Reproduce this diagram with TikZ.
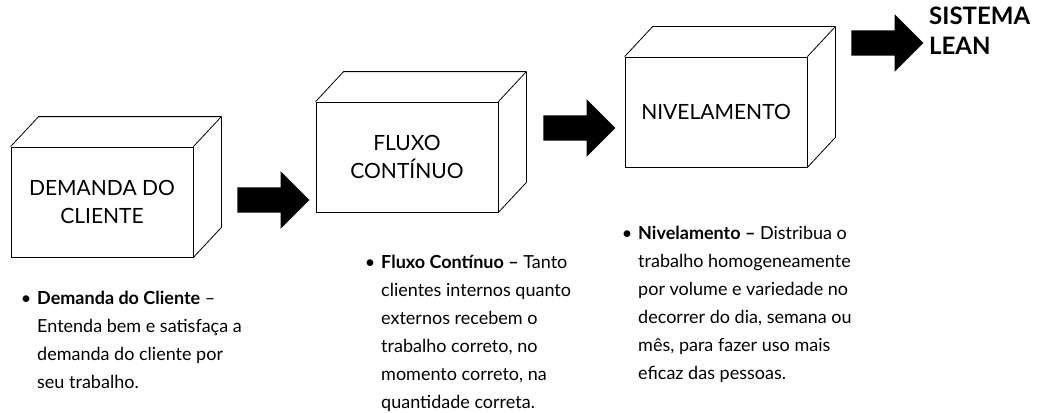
\documentclass[tikz,border=0pt]{standalone}
\usepackage{fontspec}
\setmainfont{Lato}
\usetikzlibrary{shapes.arrows,calc}

\begin{document}
\begin{tikzpicture}[x=1pt,y=-1pt,
    caixa/.style={draw,line width=0.8pt,minimum width=182pt,minimum height=110pt,
      inner sep=0pt,align=center,font=\fontsize{21}{28}\selectfont},
    seta/.style={single arrow,fill=black,inner xsep=0pt,inner ysep=12.5pt,
      minimum height=72pt,single arrow head extend=16pt},
    nota/.style={anchor=base west,align=left,inner sep=0pt,
      font=\fontsize{18}{28}\selectfont}
  ]
  \useasboundingbox (0,0) rectangle (1051,412);
  % caixas (face da frente)
  \node[caixa] (demanda) at (102,202) {DEMANDA DO\\CLIENTE};
  \node[caixa] (fluxo) at (407,157) {FLUXO\\CONTÍNUO};
  \node[caixa] (nivel) at (716,112) {NIVELAMENTO};
  % topo e lado de cada caixa
  \foreach \b in {demanda,fluxo,nivel}
    \draw[line width=0.8pt,line join=round] (\b.north west) -- ++(28,-30)
      -- ($(\b.north east)+(28,-30)$) -- ($(\b.south east)+(28,-30)$)
      -- (\b.south east) (\b.north east) -- ++(28,-30);
  % setas
  \node[seta] (s1) at (267,200) {};
  \node[seta] (s2) at (573,128) {};
  \node[seta] (s3) at (881,43) {};
  \node[anchor=base west,align=left,inner sep=0pt,
    font=\fontsize{24}{30}\selectfont\bfseries] (lean) at (929,55) {SISTEMA\\LEAN};
  % textos (ancorados na linha de base da ultima linha)
  \node[nota] (t1) at (37,388) {\llap{•\hspace{6pt}}\textbf{Demanda do Cliente} –\\
    Entenda bem e satisfaça a\\demanda do cliente por\\seu trabalho.};
  \node[nota] (t2) at (381,408) {\llap{•\hspace{6pt}}\textbf{Fluxo Contínuo –} Tanto\\
    clientes internos quanto\\externos recebem o\\trabalho correto, no\\
    momento correto, na\\quantidade correta.};
  \node[nota] (t3) at (638,379) {\llap{•\hspace{6pt}}\textbf{Nivelamento –} Distribua o\\
    trabalho homogeneamente\\por volume e variedade no\\decorrer do dia, semana ou\\
    mês, para fazer uso mais\\eficaz das pessoas.};
\end{tikzpicture}
\end{document}
